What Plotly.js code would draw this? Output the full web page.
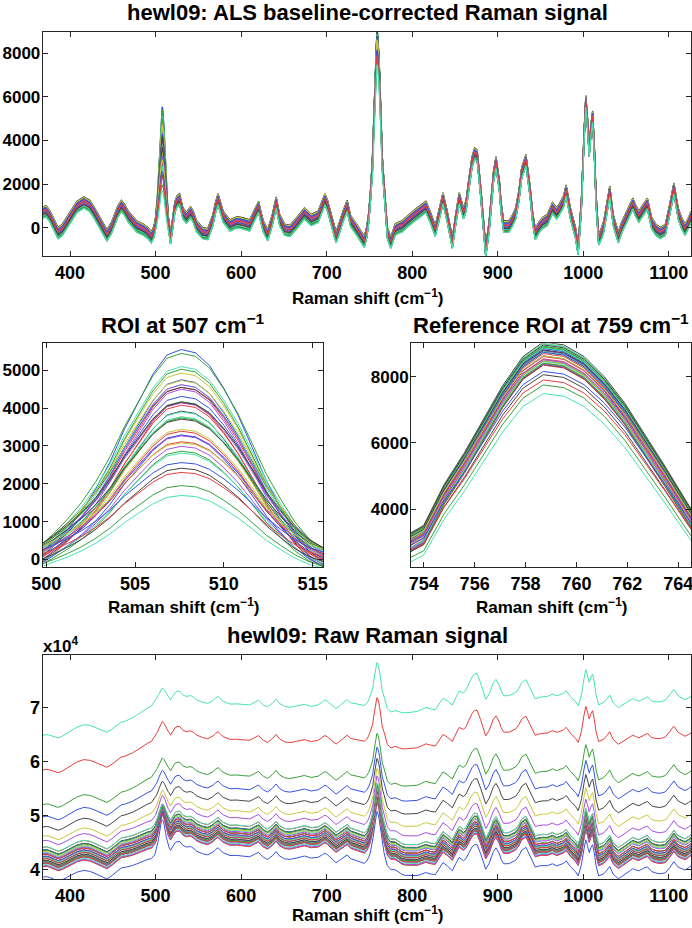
<!DOCTYPE html>
<html>
<head>
<meta charset="utf-8">
<script src="https://cdn.plot.ly/plotly-3.0.1.min.js"></script>
<style>
html,body{margin:0;padding:0;background:#fff;}
#chart{width:692px;height:928px;}
</style>
</head>
<body>
<div id="chart"></div>
<script>
// ---------- data ----------
// mean ALS-corrected spectrum (outside the two ROIs)
const shiftMain = [368,372,376,380,386,391,396,402,408,416,423,428,433,438,443,448,452,456,460,464,468,473,478,486,491,495,498,
  517.5,520,522.6,525,528,532,536,541,544,548,555,561,567,570,573,576,579,587,595,602,610,616,620.5,623,626,631,636.5,641,645,651,657,665,674,682,690,695,698,701,703.5,707,711,715,719,724,728,736,741,744,747,749,751,
  767,769,771,775,780,784,788,792,796,801,806,811,816,821,827,831,836,841,847,851,855,860,863,866,870,873,876,880,883,886,890,893,895,898,902,904,907,913,917,921,925,928,933,938,941,944,948,952,958,964,969,973,977,980,985,991,994,996,998,1001,1003,1005,1007,1009,1011,1013,1015,1018,1021,1024,1028,1031,1035,1041,1045,1049,1054,1058,1061,1065,1070,1075,1080,1085,1090,1096,1101,1106,1111,1115,1119,1123,1126];
const corrMain = [700,750,550,200,-250,-100,200,550,950,1150,1000,700,350,0,-350,-50,350,750,1000,800,500,250,50,-100,-250,-450,-200,
  -500,200,950,1200,1300,650,450,700,500,50,-250,-300,350,900,1300,900,500,100,250,200,100,600,950,500,50,-350,350,1150,350,-100,-150,200,650,350,500,1000,1300,1000,650,100,-450,0,500,1000,300,-150,-500,-650,-200,400,1300,
  1900,700,-250,-700,-100,0,50,200,350,500,650,800,950,500,-150,500,1350,500,-700,400,1350,650,1000,1900,3000,3400,3300,1700,200,-1100,50,1300,2300,3000,1900,900,50,50,300,650,1500,2500,3100,1600,400,-300,0,200,350,900,650,900,1200,1700,650,-250,-1000,0,1200,4200,5800,4800,3500,4500,5100,3500,1300,-550,-300,50,900,1650,350,-450,0,350,800,1100,800,500,800,1100,200,-100,-250,-100,800,1800,650,200,-100,200,500];

// ROI around 507 cm-1: sample positions and normalised band profile
const roi507Shift = [499.6,500.4,501.2,502.0,502.8,503.6,504.4,505.2,506.0,506.8,507.6,508.4,509.2,510.0,510.8,511.6,512.4,513.2,514.0,514.8,515.6];
const roi507Shape = [0.025,0.09,0.165,0.25,0.355,0.48,0.63,0.76,0.885,0.975,1.0,0.985,0.925,0.82,0.695,0.545,0.39,0.265,0.15,0.065,0.013];
// ROI around 759 cm-1
const roi759Shift = [753.2,754.0,754.8,755.6,756.4,757.1,757.9,758.7,759.5,760.3,761.1,761.9,762.7,763.5,764.3,765.1];
const roi759Shape = [0.33,0.37,0.51,0.62,0.74,0.85,0.95,1.0,0.99,0.95,0.88,0.79,0.68,0.57,0.455,0.345];

// per-spectrum values (39 spectra)
const peak507 = [5700,5250,4600,4950,4700,4850,4300,4850,5000,4400,4500,4650,4550,4100,4250,3950,4200,3900,4000,3850,3900,3500,3650,3450,3600,3150,3400,3500,3300,3100,3000,2950,3200,2850,2500,2400,2150,2250,1950];
const peak759 = [9000,8800,8750,8850,8700,8650,8800,8900,8750,8600,8800,8650,8700,8550,8800,8700,8600,8750,8650,8500,8700,8850,8800,8600,8700,8550,8450,8600,8750,8650,8500,8600,8450,8400,8150,8000,7950,7850,7750];
const residualOffset = [-150,200,-50,150,-200,80,250,-100,30,-250,120,-30,180,-180,60,220,-120,0,140,-80,260,-220,90,-60,170,-160,40,210,-10,-240,110,-140,70,230,-90,160,-200,50,-260];
const rawOffset = [38000,39600,39800,39950,40100,40250,40350,40450,40550,40650,40750,40850,40950,41050,41150,41250,41350,41450,41550,41650,41750,41850,41950,42050,42200,42350,42500,42650,42800,43000,43250,43550,44500,45200,47220,48870,51500,57660,64400];
const fluorWeight = [0,0,0,0,0,0,0,0,0,0,0,0,0,0,0,0,0,0,0,0,0,0,0,0,0.05,0.05,0.05,0.05,0.05,0.05,0.05,0.05,0.16,0.39,0.54,0.67,0.8,0.93,1];

// fitted (ALS) baselines, relative to their value at 368 cm-1
const baseShift = [368,385,415,443,462,482,500,515,530,550,575,600,640,680,720,745,760,775,790,805,820,835,855,875,900,930,950,970,1000,1020,1035,1045,1070,1100,1126];
const baseLow  = [0,200,800,700,1500,3500,5000,6200,6000,5400,4800,4400,4300,3900,3800,3900,3900,2800,900,300,700,2000,3000,3400,3100,3200,2700,2100,1900,1400,900,800,1500,1600,2300];
const baseHigh = [0,450,1550,1650,2250,4950,7250,7850,7600,7250,6600,6250,6350,5750,6250,6950,6450,5750,4750,4450,5100,6200,7600,8900,8050,8000,7700,7400,7150,6900,6450,6250,6650,7450,7450];

const palette = ['#3552e3','#38a038','#e63d3d','#45e3b2','#a64ee3','#c7c73b','#454545'];

// ---------- assembly ----------
function corrSeries(i){
  const x=[], y=[];
  const off = residualOffset[i];
  shiftMain.forEach((s,k)=>{ if(s<499.6){x.push(s); y.push(corrMain[k]+off);} });
  roi507Shift.forEach((s,k)=>{ x.push(s); y.push(peak507[i]*roi507Shape[k]+off); });
  shiftMain.forEach((s,k)=>{ if(s>515.6 && s<753.2){x.push(s); y.push(corrMain[k]+off);} });
  roi759Shift.forEach((s,k)=>{ x.push(s); y.push(peak759[i]*roi759Shape[k]+off); });
  shiftMain.forEach((s,k)=>{ if(s>765.1){x.push(s); y.push(corrMain[k]+off);} });
  return {x,y};
}
function baseAt(arr, s){
  for(let k=0;k<baseShift.length-1;k++){
    if(s>=baseShift[k] && s<=baseShift[k+1]){
      const t=(s-baseShift[k])/(baseShift[k+1]-baseShift[k]);
      return arr[k]+(arr[k+1]-arr[k])*t;
    }
  }
  return arr[arr.length-1];
}

const traces=[];
const N = peak507.length;
for(let i=0;i<N;i++){
  const c = corrSeries(i);
  const col = palette[i%7];
  const common = {type:'scatter', mode:'lines', hoverinfo:'skip', showlegend:false};
  traces.push(Object.assign({x:c.x, y:c.y, xaxis:'x', yaxis:'y', line:{color:col,width:1.2}}, common));
  traces.push(Object.assign({x:c.x, y:c.y, xaxis:'x2', yaxis:'y2', line:{color:col,width:1}}, common));
  traces.push(Object.assign({x:c.x, y:c.y, xaxis:'x3', yaxis:'y3', line:{color:col,width:1}}, common));
  const w = fluorWeight[i];
  const raw = c.x.map((s,k)=> rawOffset[i] + (1-w)*baseAt(baseLow,s) + w*baseAt(baseHigh,s) + c.y[k]);
  traces.push(Object.assign({x:c.x, y:raw, xaxis:'x4', yaxis:'y4', line:{color:col,width:1}}, common));
}

// ---------- layout ----------
const W=692, H=928;
const FONT='Liberation Sans, Arial, Helvetica, sans-serif';
const px = v=>v/W, py = v=>1-v/H;
function ax(extra, fs){
  return Object.assign({
    showline:true, mirror:'ticks', ticks:'inside', ticklen:5, tickwidth:1,
    linecolor:'#262626', tickcolor:'#262626', linewidth:1,
    showgrid:false, zeroline:false, fixedrange:true, ticklabeloverflow:'allow',
    tickfont:{family:FONT, size:fs||18, color:'#000', weight:'bold'}
  }, extra);
}
const axisTitle='Raman shift (cm<sup>−1</sup>)';
function ann(text,x,y,size,xanchor){
  return {text:text, x:x, y:y, xref:'paper', yref:'paper', xanchor:xanchor||'center', yanchor:'middle',
    showarrow:false, font:{family:FONT, size:size, color:'#000', weight:'bold'}};
}

const layout = {
  width:W, height:H, margin:{l:0,r:0,t:0,b:0}, paper_bgcolor:'#fff', plot_bgcolor:'#fff', showlegend:false,
  xaxis: ax({domain:[px(42.7),px(691)], range:[368,1126], tickvals:[400,500,600,700,800,900,1000,1100], anchor:'y'}),
  yaxis: ax({domain:[py(256),py(32)], range:[-1300,8980], tickvals:[0,2000,4000,6000,8000], anchor:'x', ticklabelstandoff:-2}, 17),
  xaxis2: ax({domain:[px(42.7),px(323.3)], range:[499.8,515.6], tickvals:[500,505,510,515], anchor:'y2'}),
  yaxis2: ax({domain:[py(567.3),py(343.3)], range:[-210,5715], tickvals:[0,1000,2000,3000,4000,5000], anchor:'x2', ticklabelstandoff:-2}, 17),
  xaxis3: ax({domain:[px(411),px(691)], range:[753.5,764.5], tickvals:[754,756,758,760,762,764], anchor:'y3'}),
  yaxis3: ax({domain:[py(567.3),py(343.3)], range:[2240,9010], tickvals:[4000,6000,8000], anchor:'x3', ticklabelstandoff:-2}, 17),
  xaxis4: ax({domain:[px(42.7),px(691)], range:[368,1126], tickvals:[400,500,600,700,800,900,1000,1100], anchor:'y4'}),
  yaxis4: ax({domain:[py(879.3),py(655)], range:[38140,79780], tickvals:[40000,50000,60000,70000], ticktext:['4','5','6','7'], anchor:'x4', ticklabelstandoff:-2}, 18),
  annotations:[
    ann('hewl09: ALS baseline-corrected Raman signal', px(367), py(12), 22),
    ann(axisTitle, px(367), py(297), 17),
    ann('ROI at 507 cm<sup>−1</sup>', px(183), py(324), 22),
    ann(axisTitle, px(183), py(606), 17),
    ann('Reference ROI at 759 cm<sup>−1</sup>', px(551), py(324), 22),
    ann(axisTitle, px(551), py(606), 17),
    ann('hewl09: Raw Raman signal', px(367), py(635.6), 22),
    ann(axisTitle, px(367), py(914), 17),
    ann('x10<sup>4</sup>', px(41), py(645), 17, 'left')
  ]
};

Plotly.newPlot('chart', traces, layout, {staticPlot:true, displayModeBar:false});
</script>
</body>
</html>
